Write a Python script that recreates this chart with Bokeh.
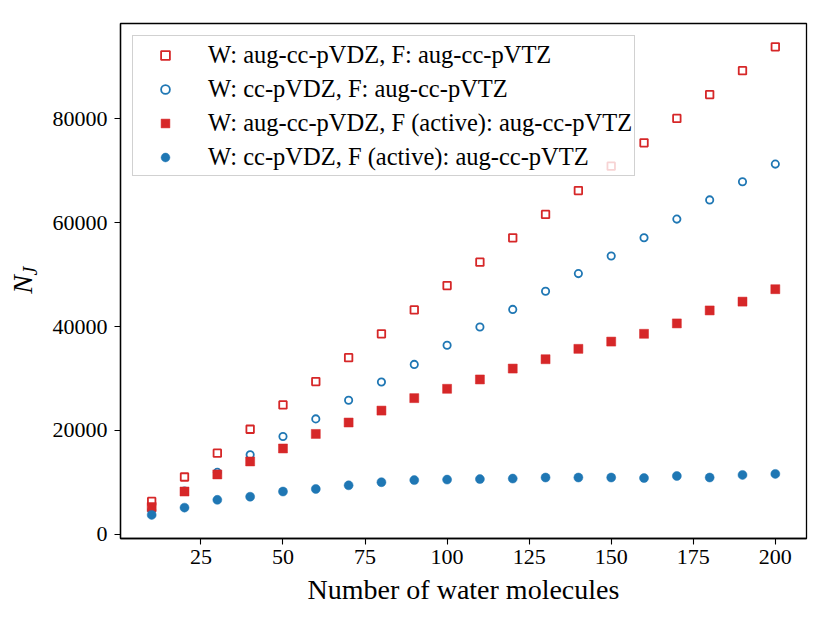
from bokeh.plotting import figure
from bokeh.models import (ColumnDataSource, Range1d, FixedTicker, Legend, LegendItem,
                          LinearAxis, BasicTickFormatter)
from bokeh.embed import file_html
from bokeh.resources import INLINE

# ---- data ----
n_water = [10, 20, 30, 40, 50, 60, 70, 80, 90, 100,
           110, 120, 130, 140, 150, 160, 170, 180, 190, 200]
aug_full = [6300, 11000, 15600, 20200, 24900, 29400, 34000, 38600, 43200, 47900,
            52400, 57100, 61600, 66200, 70900, 75400, 80100, 84700, 89300, 93900]
cc_full = [4600, 8300, 11900, 15300, 18800, 22200, 25800, 29300, 32700, 36400,
           39900, 43300, 46800, 50200, 53600, 57100, 60700, 64400, 67900, 71300]
aug_active = [5200, 8200, 11500, 14000, 16500, 19300, 21500, 23800, 26200, 28000,
              29800, 31900, 33700, 35700, 37100, 38600, 40600, 43100, 44800, 47200]
cc_active = [3700, 5100, 6600, 7200, 8200, 8700, 9400, 10000, 10400, 10500,
             10600, 10700, 10900, 10900, 10900, 10800, 11200, 10900, 11400, 11600]

labels = ["W: aug-cc-pVDZ, F: aug-cc-pVTZ",
          "W: cc-pVDZ, F: aug-cc-pVTZ",
          "W: aug-cc-pVDZ, F (active): aug-cc-pVTZ",
          "W: cc-pVDZ, F (active): aug-cc-pVTZ"]
x_ticks = [25, 50, 75, 100, 125, 150, 175, 200]
y_ticks = [0, 20000, 40000, 60000, 80000]

RED = "#d62728"
BLUE = "#1f77b4"
FONT = "Liberation Serif"
NBSP = "\u00a0"

src = ColumnDataSource(dict(x=n_water, a=aug_full, b=cc_full, c=aug_active, d=cc_active))

p = figure(width=814, height=607, output_backend="svg", toolbar_location=None,
           x_range=Range1d(0.5, 209.5), y_range=Range1d(-850, 98400),
           min_border_left=120, min_border_right=8, min_border_top=23, min_border_bottom=68)

r1 = p.scatter("x", "a", source=src, marker="square", size=7.5, line_width=1.8,
               line_color=RED, fill_color=None)
r2 = p.scatter("x", "b", source=src, marker="circle", size=7.3, line_width=1.8,
               line_color=BLUE, fill_color=None)
r3 = p.scatter("x", "c", source=src, marker="square", size=9, line_width=0.5,
               line_color=RED, fill_color=RED)
r4 = p.scatter("x", "d", source=src, marker="circle", size=9, line_width=0.5,
               line_color=BLUE, fill_color=BLUE)

p.xgrid.visible = False
p.ygrid.visible = False
p.outline_line_color = "black"
p.outline_line_width = 1.3
p.background_fill_color = "white"
p.border_fill_color = "white"

for ax in (p.xaxis[0], p.yaxis[0]):
    ax.major_label_text_font = FONT
    ax.major_label_text_font_size = "22px"
    ax.major_label_text_color = "black"
    ax.axis_label_text_font = FONT
    ax.axis_label_text_color = "black"
    ax.axis_line_color = "black"
    ax.axis_line_width = 1.3
    ax.major_tick_line_color = "black"
    ax.major_tick_line_width = 1.1
    ax.major_tick_out = 6
    ax.major_tick_in = 0
    ax.minor_tick_line_color = None

p.xaxis.ticker = FixedTicker(ticks=x_ticks)
p.yaxis.ticker = FixedTicker(ticks=y_ticks)
p.yaxis.formatter = BasicTickFormatter(use_scientific=False)
p.xaxis.major_label_standoff = 5
p.yaxis.major_label_standoff = 7
p.xaxis.axis_label = "Number of water molecules"
p.xaxis.axis_label_text_font_size = "28px"
p.xaxis.axis_label_text_font_style = "normal"
p.xaxis.axis_label_standoff = 7

# y-axis label N_J: subscript J on the main axis, italic N on an outer tickless axis
p.yaxis.axis_label = NBSP * 4 + "J"
p.yaxis.axis_label_text_font_size = "20px"
p.yaxis.axis_label_text_font_style = "italic"
p.yaxis.axis_label_standoff = 9

naxis = LinearAxis(ticker=FixedTicker(ticks=[]), axis_line_color=None,
                   major_tick_line_color=None, minor_tick_line_color=None,
                   major_tick_out=0, major_tick_in=0,
                   major_label_text_font_size="0px",
                   axis_label="N" + NBSP, axis_label_text_font=FONT,
                   axis_label_text_font_style="italic", axis_label_text_font_size="28px",
                   axis_label_text_color="black", axis_label_standoff=-22)
p.add_layout(naxis, "left")

legend = Legend(items=[LegendItem(label=labels[0], renderers=[r1]),
                       LegendItem(label=labels[1], renderers=[r2]),
                       LegendItem(label=labels[2], renderers=[r3]),
                       LegendItem(label=labels[3], renderers=[r4])],
                location="top_left", margin=12, padding=2, spacing=1,
                glyph_width=60, glyph_height=22, label_height=33, label_standoff=13,
                label_text_font=FONT, label_text_font_size="24.5px",
                label_text_color="black",
                background_fill_color="white", background_fill_alpha=0.8,
                border_line_color="#cccccc", border_line_width=1.3, border_line_alpha=0.9)
p.add_layout(legend, "center")

open("out.html", "w").write(file_html(p, INLINE))
